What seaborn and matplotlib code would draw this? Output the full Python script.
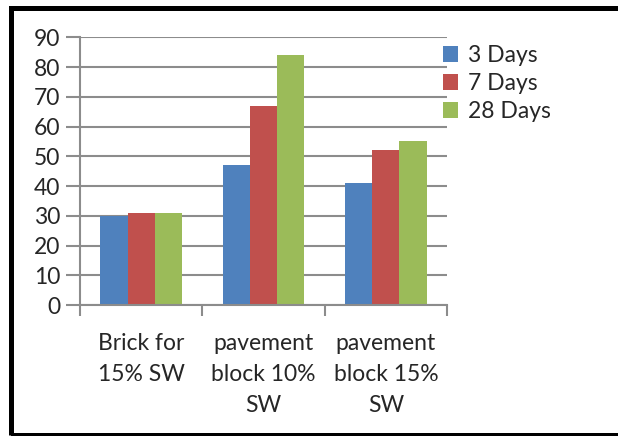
import matplotlib
matplotlib.use("Agg")
import matplotlib.pyplot as plt
import seaborn as sns
import pandas as pd
from matplotlib.patches import Rectangle, Patch

categories = ["Brick for\n15% SW", "pavement\nblock 10%\nSW", "pavement\nblock 15%\nSW"]
series = ["3 Days", "7 Days", "28 Days"]
days3 = [30, 47, 41]
days7 = [31, 67, 52]
days28 = [31, 84, 55]
yticks = [0, 10, 20, 30, 40, 50, 60, 70, 80, 90]
colors = ["#4F81BD", "#C0504D", "#9BBB59"]

rows = []
for s, vals in zip(series, [days3, days7, days28]):
    for c, v in zip(categories, vals):
        rows.append({"cat": c, "series": s, "value": v})
df = pd.DataFrame(rows)

sns.set_style("white")
plt.rcParams['font.family'] = ['Lato', 'DejaVu Sans']

fs = 16.5
fig = plt.figure(figsize=(6.18, 4.36), dpi=100)
ax = fig.add_axes([80/618, 131/436, 367/618, 267.7/436])

sns.barplot(data=df, x="cat", y="value", hue="series", order=categories,
            hue_order=series, palette=colors, width=0.67, gap=0,
            ax=ax, legend=False, saturation=1, edgecolor="none")

grid_c = "#8C8C8C"
ax.set_ylim(0, 90)
ax.set_xlim(-0.5, 2.5)
ax.set_yticks(yticks)
ax.set_yticklabels([str(t) for t in yticks], fontsize=fs)
ax.yaxis.grid(True, color=grid_c, linewidth=1.5)
ax.set_axisbelow(True)
ax.tick_params(axis="y", length=10, width=1.5, color=grid_c, pad=4, direction="out", left=True)
ax.set_xticks([0, 1, 2])
ax.set_xticklabels(categories, fontsize=fs, linespacing=1.6)
ax.tick_params(axis="x", which="major", length=0, pad=20)
ax.set_xticks([-0.5, 0.5, 1.5, 2.5], minor=True)
ax.tick_params(axis="x", which="minor", length=8, width=1.5, color=grid_c, direction="out", bottom=True)
ax.set_xlabel("")
ax.set_ylabel("")
for s in ["top", "right"]:
    ax.spines[s].set_visible(False)
for s in ["left", "bottom"]:
    ax.spines[s].set_color(grid_c)
    ax.spines[s].set_linewidth(1.5)

handles = [Patch(facecolor=c, edgecolor="none") for c in colors]
fig.legend(handles, series, loc="upper left", bbox_to_anchor=(434/618, 1 - 36/436),
           frameon=False, fontsize=fs, handlelength=0.65, handleheight=0.65,
           handletextpad=0.45, labelspacing=0.3, borderaxespad=0)

fig.patches.append(Rectangle((10.5/618, 1.5/436), 620/618, (436 - 8.5 - 1.5)/436,
                             transform=fig.transFigure, fill=False,
                             edgecolor="black", linewidth=3.6))

fig.savefig("out.png", dpi=100)
